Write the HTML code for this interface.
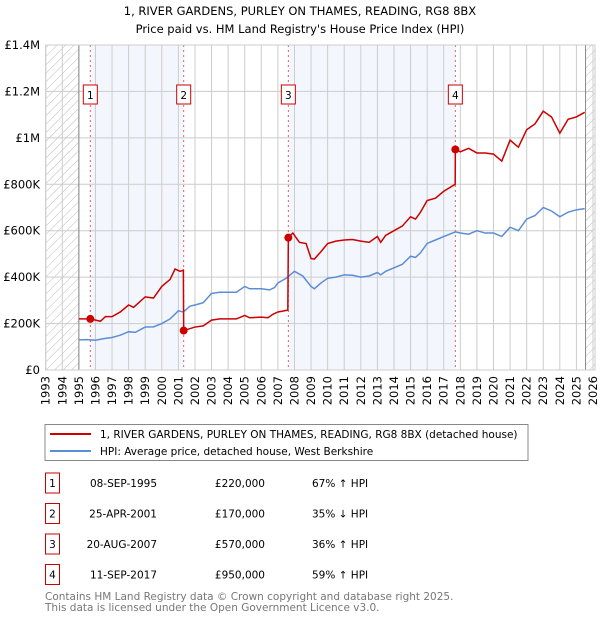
<!DOCTYPE html>
<html><head><meta charset="utf-8"><style>
body{margin:0;width:600px;height:620px;background:#fff;font-family:"DejaVu Sans","Liberation Sans",sans-serif;overflow:hidden}
svg{position:absolute;left:0;top:0}
</style></head><body>
<svg id="c" width="600" height="620" font-family="DejaVu Sans, Liberation Sans, sans-serif">
<defs><pattern id="hatch" width="6" height="6" patternUnits="userSpaceOnUse" patternTransform="rotate(45)"><line x1="0" y1="0" x2="0" y2="6" stroke="#bbb" stroke-width="1"/></pattern></defs>
<text x="300" y="15" text-anchor="middle" font-size="11.5" fill="#000">1, RIVER GARDENS, PURLEY ON THAMES, READING, RG8 8BX</text>
<text x="300" y="33" text-anchor="middle" font-size="11.5" fill="#000">Price paid vs. HM Land Registry's House Price Index (HPI)</text>
<g id="plot"></g>
<rect x="45" y="424.5" width="483" height="36" fill="#fff" stroke="#888"/>
<line x1="50" y1="434" x2="91" y2="434" stroke="#cc0000" stroke-width="2"/>
<text x="100" y="438" font-size="10.5">1, RIVER GARDENS, PURLEY ON THAMES, READING, RG8 8BX (detached house)</text>
<line x1="50" y1="451" x2="91" y2="451" stroke="#5b8dd6" stroke-width="2"/>
<text x="100" y="455" font-size="10.5">HPI: Average price, detached house, West Berkshire</text>
<g id="tbl" font-size="10.5"></g>
<text x="45" y="600" font-size="10.5" fill="#777">Contains HM Land Registry data © Crown copyright and database right 2025.</text>
<text x="45" y="611" font-size="10.5" fill="#777">This data is licensed under the Open Government Licence v3.0.</text>
</svg>
<script>
const yearTicks=[1993,1994,1995,1996,1997,1998,1999,2000,2001,2002,2003,2004,2005,2006,2007,2008,2009,2010,2011,2012,2013,2014,2015,2016,2017,2018,2019,2020,2021,2022,2023,2024,2025,2026];
const priceTicks=[0,200000,400000,600000,800000,1000000,1200000,1400000];
const priceLabels=["£0","£200K","£400K","£600K","£800K","£1M","£1.2M","£1.4M"];
const hpiT=[1995,1995.5,1996,1996.5,1997,1997.5,1998,1998.4,1999,1999.5,2000,2000.5,2001,2001.3,2001.7,2002,2002.5,2003,2003.5,2004,2004.5,2005,2005.3,2006,2006.5,2006.8,2007,2007.5,2008,2008.5,2009,2009.2,2009.6,2010,2010.5,2011,2011.5,2012,2012.5,2013,2013.2,2013.5,2014,2014.5,2015,2015.3,2015.6,2016,2016.5,2017,2017.7,2018,2018.5,2019,2019.5,2020,2020.5,2021,2021.5,2022,2022.5,2023,2023.5,2024,2024.5,2025,2025.5];
const hpiV=[130,131,128,135,140,150,165,162,185,186,200,220,255,250,275,280,290,330,335,335,335,360,350,350,345,355,375,395,425,405,360,350,375,395,400,410,408,400,405,420,410,425,440,455,490,485,505,545,560,575,595,590,585,600,590,590,575,615,600,650,665,700,685,660,680,690,695];
const redT=[1995,1995.69,1996.3,1996.6,1997,1997.5,1998,1998.3,1999,1999.5,2000,2000.5,2000.8,2001.1,2001.3,2001.32,2002,2002.5,2003,2003.5,2004,2004.5,2005,2005.3,2006,2006.4,2006.7,2007,2007.6,2007.63,2007.9,2008.3,2008.7,2009,2009.2,2009.6,2010,2010.5,2011,2011.5,2012,2012.5,2013,2013.2,2013.5,2014,2014.5,2015,2015.3,2015.6,2016,2016.5,2017,2017.69,2017.7,2018,2018.5,2019,2019.5,2020,2020.5,2021,2021.5,2022,2022.5,2023,2023.5,2024,2024.5,2025,2025.5];
const redV=[220,220,210,230,230,250,280,270,315,310,360,390,435,425,430,170,185,190,215,220,220,220,235,225,228,225,240,250,258,570,590,550,545,480,478,510,545,555,560,562,555,550,575,550,580,600,620,660,650,680,730,740,770,800,950,940,955,935,935,930,900,990,960,1035,1060,1115,1090,1020,1080,1090,1110];
const saleT=[1995.69,2001.32,2007.63,2017.7];
const saleV=[220000,170000,570000,950000];
const saleDates=["08-SEP-1995","25-APR-2001","20-AUG-2007","11-SEP-2017"];
const salePrices=["£220,000","£170,000","£570,000","£950,000"];
const saleHpi=["67% ↑ HPI","35% ↓ HPI","36% ↑ HPI","59% ↑ HPI"];

const X0=45.7,X1=593,Y0=370,Y1=45;
const xs=t=>X0+(t-1993)/(2026-1993)*(X1-X0);
const ys=v=>Y0-v/1400000*(Y0-Y1);
const NS="http://www.w3.org/2000/svg";
const plot=document.getElementById('plot');
function mk(tag,attrs,parent){const e=document.createElementNS(NS,tag);for(const k in attrs)e.setAttribute(k,attrs[k]);(parent||plot).appendChild(e);return e;}
for(const [a,b] of [[0,1],[2,3]]){
 const r=mk('rect',{x:xs(saleT[a]),y:Y1,width:xs(saleT[b])-xs(saleT[a]),height:Y0-Y1,fill:'#eef3fc',opacity:0.7});
 
 
}
let h1=mk('rect',{x:X0,y:Y1,width:xs(1995)-X0,height:Y0-Y1,fill:'url(#hatch)'});


let h2=mk('rect',{x:xs(2025.55),y:Y1,width:X1-xs(2025.55)+2,height:Y0-Y1,fill:'url(#hatch)'});


yearTicks.forEach(t=>{
 const l=mk('line',{x1:xs(t),x2:xs(t),y1:Y1,y2:Y0,stroke:'#ccc','stroke-width':1});
 
 
 const tx=mk('text',{x:0,y:0,'font-size':11.5,'text-anchor':'end',transform:`translate(${xs(t)+4},${Y0+6}) rotate(-90)`});
 tx.textContent=t;
 
 
});
priceTicks.forEach((v,i)=>{
 const l=mk('line',{x1:X0,x2:X1,y1:ys(v),y2:ys(v),stroke:'#ccc','stroke-width':1});
 
 
 const tx=mk('text',{x:40,y:ys(v)+4,'font-size':11.5,'text-anchor':'end'});
 tx.textContent=priceLabels[i];
 
 
});
let b1=mk('line',{x1:xs(1995),x2:xs(1995),y1:Y1,y2:Y0,stroke:'#888'});


let b2=mk('line',{x1:xs(2025.55),x2:xs(2025.55),y1:Y1,y2:Y0,stroke:'#888'});


saleT.forEach((t,i)=>{
 const l=mk('line',{x1:xs(t),x2:xs(t),y1:Y1,y2:Y0,stroke:'#e06060','stroke-dasharray':'2,3','stroke-width':1});
 
 
 const r=mk('rect',{x:xs(t)-7,y:85,width:14,height:19,fill:'#fff',stroke:'#cc0000'});
 
 
 const tx=mk('text',{x:xs(t),y:99,'font-size':10.5,'text-anchor':'middle'});
 tx.textContent=i+1;
 
 
});
const hp=mk('polyline',{points:hpiT.map((t,i)=>xs(t)+','+ys(hpiV[i]*1000)).join(' '),fill:'none',stroke:'#5b8dd6','stroke-width':1.5});


const rp=mk('polyline',{points:redT.map((t,i)=>xs(t)+','+ys(redV[i]*1000)).join(' '),fill:'none',stroke:'#cc0000','stroke-width':1.5});


saleT.forEach((t,i)=>{
 const c=mk('circle',{cx:xs(t),cy:ys(saleV[i]),r:4,fill:'#cc0000'});
 
 
});
let ax=mk('rect',{x:X0,y:Y1,width:X1-X0+2,height:Y0-Y1,fill:'none',stroke:'#ccc'});


const tbl=document.getElementById('tbl');
saleT.forEach((t,i)=>{
 const cy=483+i*30.5;
 const r=mk('rect',{x:45.5,y:cy-10,width:14,height:20,fill:'#fff',stroke:'#cc0000'},tbl);
 
 
 const n=mk('text',{x:52.5,y:cy+4,'text-anchor':'middle'},tbl);n.textContent=i+1;
 
 
 const d=mk('text',{x:157,y:cy+4,'text-anchor':'end'},tbl);d.textContent=saleDates[i];
 
 
 const p=mk('text',{x:265,y:cy+4,'text-anchor':'end'},tbl);p.textContent=salePrices[i];
 
 
 const hh=mk('text',{x:312,y:cy+4},tbl);hh.textContent=saleHpi[i];
 
 
});
</script>
</body></html>
